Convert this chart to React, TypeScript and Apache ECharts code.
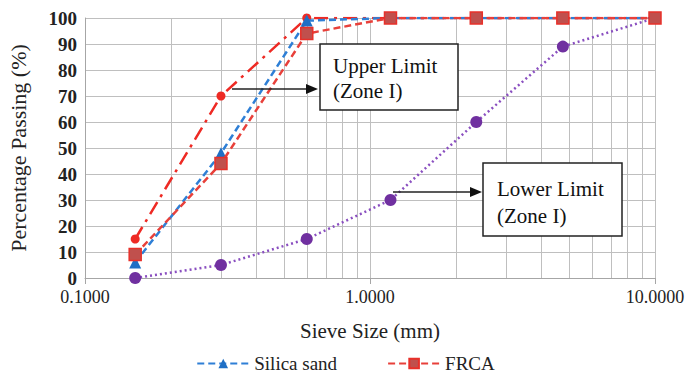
import React, { useEffect, useRef } from "react";
import * as echarts from "echarts";

const sieveSizes = [0.15, 0.3, 0.6, 1.18, 2.36, 4.75, 10];
const silicaSand = [6, 48, 99, 100, 100, 100, 100];
const frca = [9, 44, 94, 100, 100, 100, 100];
const upperLimit = [15, 70, 100, 100, 100, 100, 100];
const lowerLimit = [0, 5, 15, 30, 60, 89, 100];
const minorGrid = [0.2, 0.3, 0.4, 0.5, 0.6, 0.7, 0.8, 0.9, 2, 3, 4, 5, 6, 7, 8, 9];

const FONT = "Liberation Serif";

export default function App() {
  const ref = useRef<HTMLDivElement>(null);
  useEffect(() => {
    if (!ref.current) return;
    const chart = echarts.init(ref.current, null, { renderer: "svg" });
    const pair = (ys: number[]) => sieveSizes.map((x, i) => [x, ys[i]]);
    chart.setOption({
      animation: false,
      backgroundColor: "#fff",
      textStyle: { fontFamily: FONT },
      grid: { left: 85, right: 36, top: 18, bottom: 104, containLabel: false, outerBoundsMode: "none" },
      xAxis: {
        type: "log",
        logBase: 10,
        min: 0.1,
        max: 10,
        name: "Sieve Size (mm)",
        nameLocation: "middle",
        nameGap: 42,
        nameTextStyle: { fontFamily: FONT, fontSize: 21, color: "#222" },
        axisLine: { show: true, lineStyle: { color: "#a6a6a6" } },
        axisTick: { show: true, length: 6, lineStyle: { color: "#a6a6a6" } },
        axisLabel: {
          fontFamily: FONT,
          fontSize: 18,
          color: "#222",
          margin: 10,
          formatter: (v: number) => v.toFixed(4),
        },
        splitLine: { show: true, lineStyle: { color: "#bfbfbf", width: 1 } },
      },
      yAxis: {
        type: "value",
        min: 0,
        max: 100,
        interval: 10,
        name: "Percentage Passing (%)",
        nameLocation: "middle",
        nameGap: 56,
        nameTextStyle: { fontFamily: FONT, fontSize: 22, color: "#222" },
        axisLine: { show: true, lineStyle: { color: "#a6a6a6" } },
        axisTick: { show: false },
        axisLabel: { fontFamily: FONT, fontSize: 19, color: "#222", fontWeight: "bold", margin: 8 },
        splitLine: { show: true, lineStyle: { color: "#bfbfbf", width: 1 } },
      },
      legend: {
        bottom: 4,
        left: "center",
        itemWidth: 52,
        itemHeight: 12,
        itemGap: 50,
        data: ["Silica sand", "FRCA"],
        textStyle: { fontFamily: FONT, fontSize: 19, color: "#222" },
      },
      series: [
        {
          name: "Lower Limit",
          type: "line",
          data: pair(lowerLimit),
          symbol: "circle",
          symbolSize: 12,
          itemStyle: { color: "#7030a0" },
          lineStyle: { color: "#8a4fc0", width: 2.5, type: [2, 3] },
          z: 2,
          markLine: {
            silent: true,
            symbol: "none",
            label: { show: false },
            lineStyle: { color: "#bfbfbf", width: 1, type: "solid" },
            data: minorGrid.map((v) => ({ xAxis: v })),
            z: 0,
          },
        },
        {
          name: "Upper Limit",
          type: "line",
          data: pair(upperLimit),
          symbol: "circle",
          symbolSize: 9,
          itemStyle: { color: "#ee2a24" },
          lineStyle: { color: "#ee2a24", width: 2.5, type: [14, 6, 3, 6] },
          z: 3,
        },
        {
          name: "Silica sand",
          type: "line",
          data: pair(silicaSand),
          symbol: "triangle",
          symbolSize: 12,
          itemStyle: { color: "#1f6fc5" },
          lineStyle: { color: "#2e7fd6", width: 2.5, type: [7, 4] },
          z: 4,
        },
        {
          name: "FRCA",
          type: "line",
          data: pair(frca),
          symbol: "rect",
          symbolSize: 12,
          itemStyle: { color: "#c0504d", borderColor: "#e8302a", borderWidth: 1.5 },
          lineStyle: { color: "#e8403a", width: 2.5, type: [7, 4] },
          z: 5,
        },
      ],
      graphic: [
        { type: "rect", shape: { x: 320, y: 44, width: 138, height: 66 }, style: { fill: "#fff", stroke: "#222", lineWidth: 1.5 }, z: 100 },
        { type: "text", x: 333, y: 53, style: { text: "Upper Limit\n(Zone I)", fontFamily: FONT, fontSize: 21, fill: "#111", lineHeight: 25 }, z: 101 },
        { type: "line", shape: { x1: 232, y1: 89, x2: 308, y2: 89 }, style: { stroke: "#222", lineWidth: 1.5 }, z: 100 },
        { type: "polygon", shape: { points: [[318, 89], [306, 84], [306, 94]] }, style: { fill: "#111" }, z: 100 },
        { type: "rect", shape: { x: 483, y: 163, width: 139, height: 73 }, style: { fill: "#fff", stroke: "#222", lineWidth: 1.5 }, z: 100 },
        { type: "text", x: 497, y: 175, style: { text: "Lower Limit\n(Zone I)", fontFamily: FONT, fontSize: 21, fill: "#111", lineHeight: 27 }, z: 101 },
        { type: "line", shape: { x1: 393, y1: 192, x2: 471, y2: 192 }, style: { stroke: "#222", lineWidth: 1.5 }, z: 100 },
        { type: "polygon", shape: { points: [[482, 192], [470, 187], [470, 197]] }, style: { fill: "#111" }, z: 100 },
      ],
    });
    return () => chart.dispose();
  }, []);
  return (
    <div
      ref={ref}
      style={{ position: "absolute", left: 0, top: 0, width: 691, height: 382 }}
    />
  );
}
